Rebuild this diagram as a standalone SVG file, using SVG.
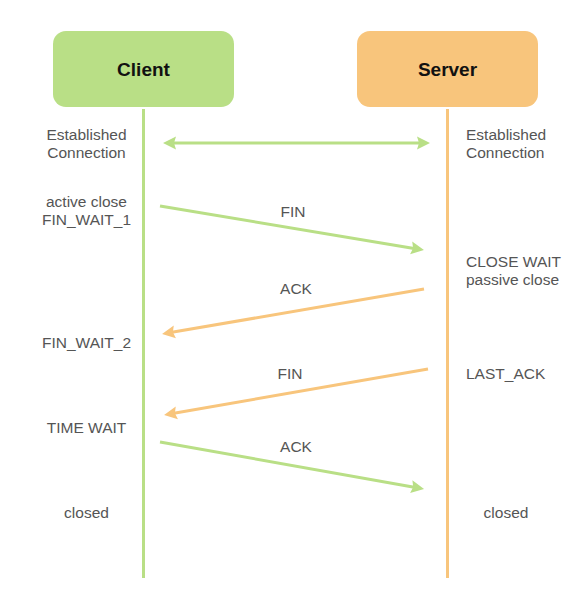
<svg xmlns="http://www.w3.org/2000/svg" width="580" height="615" viewBox="0 0 580 615">
<style>
.lbl{font-family:"Liberation Sans",Arial,sans-serif;font-size:15.5px;fill:#555555}
.c{text-anchor:middle}
.s{text-anchor:start}
.title{font-family:"Liberation Sans",Arial,sans-serif;font-size:19px;font-weight:bold;fill:#111111;text-anchor:middle}
.g{stroke:#b9df86;stroke-width:3;fill:none}
.o{stroke:#f8c57c;stroke-width:3;fill:none}
</style>
<defs>
<marker id="ag" viewBox="-3 -7 14 14" refX="0" refY="0" markerWidth="14" markerHeight="14" markerUnits="userSpaceOnUse" orient="auto-start-reverse">
<path d="M-3,-6.5 L10,0 L-3,6.5 L-1,0 z" fill="#b9df86"/>
</marker>
<marker id="ao" viewBox="-3 -7 14 14" refX="0" refY="0" markerWidth="14" markerHeight="14" markerUnits="userSpaceOnUse" orient="auto">
<path d="M-3,-6.5 L10,0 L-3,6.5 L-1,0 z" fill="#f8c57c"/>
</marker>
</defs>
<rect width="580" height="615" fill="#ffffff"/>
<g id="client">
<rect x="53" y="31" width="181" height="76" rx="13" fill="#b9df86"/>
<text class="title" x="143.5" y="76">Client</text>
</g>
<g id="server">
<rect x="357" y="31" width="181" height="76" rx="13" fill="#f8c57c"/>
<text class="title" x="447.5" y="76">Server</text>
</g>
<g id="lifelines">
<line class="g" x1="143.5" y1="109" x2="143.5" y2="578"/>
<line class="o" x1="447.5" y1="109" x2="447.5" y2="578"/>
</g>
<g id="connectors">
<line class="g" x1="173" y1="143" x2="420" y2="143" marker-start="url(#ag)" marker-end="url(#ag)"/>
<line class="g" x1="160" y1="206" x2="414.1" y2="248.4" marker-end="url(#ag)"/>
<line class="o" x1="424" y1="289" x2="171.9" y2="332.3" marker-end="url(#ao)"/>
<line class="o" x1="428" y1="369" x2="173.9" y2="413.3" marker-end="url(#ao)"/>
<line class="g" x1="160" y1="442" x2="414.2" y2="487.2" marker-end="url(#ag)"/>
</g>
<g id="message-labels">
<text class="lbl c" x="293" y="216.5">FIN</text>
<text class="lbl c" x="296" y="293.5">ACK</text>
<text class="lbl c" x="290" y="378.5">FIN</text>
<text class="lbl c" x="296" y="451.5">ACK</text>
</g>
<g id="client-states">
<text class="lbl c" x="86.5" y="139.5">Established</text>
<text class="lbl c" x="86.5" y="157.5">Connection</text>
<text class="lbl c" x="86.5" y="206.5">active close</text>
<text class="lbl c" x="86.5" y="224.5">FIN_WAIT_1</text>
<text class="lbl c" x="86.5" y="347.5">FIN_WAIT_2</text>
<text class="lbl c" x="86.5" y="432.5">TIME WAIT</text>
<text class="lbl c" x="86.5" y="517.5">closed</text>
</g>
<g id="server-states">
<text class="lbl s" x="466" y="139.5">Established</text>
<text class="lbl s" x="466" y="157.5">Connection</text>
<text class="lbl s" x="466" y="267">CLOSE WAIT</text>
<text class="lbl s" x="466" y="285">passive close</text>
<text class="lbl s" x="466" y="378.5">LAST_ACK</text>
<text class="lbl c" x="506" y="517.5">closed</text>
</g>
</svg>
